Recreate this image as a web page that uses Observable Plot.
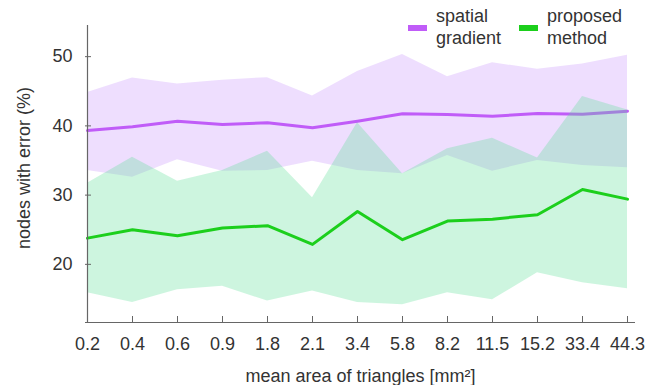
<!DOCTYPE html>
<html>
<head>
<meta charset="utf-8">
<script src="https://cdn.jsdelivr.net/npm/d3@7"></script>
<script src="https://cdn.jsdelivr.net/npm/@observablehq/plot@0.6"></script>
<style>
  html, body { margin: 0; padding: 0; background: #fff; }
  #wrap { position: relative; width: 661px; height: 385px; font-family: "Liberation Sans", Arial, sans-serif; color: #333; }
  .legend { position: absolute; font-size: 18px; line-height: 22px; color: #333; }
  .sw { position: absolute; height: 6px; width: 19px; }
</style>
</head>
<body>
<div id="wrap"></div>
<script>
// ---- data ----
const xLabels = ["0.2","0.4","0.6","0.9","1.8","2.1","3.4","5.8","8.2","11.5","15.2","33.4","44.3"];
const sgMean  = [39.33,39.86,40.67,40.19,40.44,39.72,40.67,41.74,41.63,41.39,41.78,41.68,42.11];
const sgUpper = [44.82,46.93,46.06,46.60,46.97,44.33,47.84,50.30,47.10,49.12,48.17,48.94,50.20];
const sgLower = [33.56,32.59,35.10,33.46,33.56,34.90,33.56,33.08,35.72,33.46,35.00,34.28,33.95];
const pmMean  = [23.79,25.00,24.14,25.24,25.58,22.88,27.64,23.56,26.25,26.53,27.17,30.82,29.42];
const pmUpper = [31.73,35.48,32.00,33.56,36.34,29.62,40.44,33.08,36.69,38.22,35.36,44.23,42.31];
const pmLower = [15.89,14.48,16.32,16.83,14.71,16.15,14.49,14.16,15.89,14.88,18.80,17.33,16.47];
const yTicks = [20, 30, 40, 50];
const yDomain = [11.6, 54.5];
const seriesNames = ["spatial\ngradient", "proposed\nmethod"];
const xTitle = "mean area of triangles [mm²]";
const yTitle = "nodes with error (%)";

const purple = "#c05cf8";
const purpleBand = "rgb(170,90,250)";
const green = "#1ccf1c";
const greenBand = "rgb(88,222,148)";
const axisColor = "#666";

const data = xLabels.map((x, i) => ({
  x, sgMean: sgMean[i], sgUpper: sgUpper[i], sgLower: sgLower[i],
  pmMean: pmMean[i], pmUpper: pmUpper[i], pmLower: pmLower[i]
}));

const chart = Plot.plot({
  width: 661,
  height: 385,
  marginLeft: 85,
  marginRight: 26,
  marginTop: 25,
  marginBottom: 63,
  style: { fontFamily: '"Liberation Sans", Arial, sans-serif', fontSize: "18px", color: "#333", background: "white" },
  x: { type: "point", domain: xLabels, padding: 0, insetRight: 7 },
  y: { domain: yDomain },
  marks: [
    Plot.areaY(data, { x: "x", y1: "sgLower", y2: "sgUpper", fill: purpleBand, fillOpacity: 0.2 }),
    Plot.lineY(data, { x: "x", y: "sgMean", stroke: purple, strokeWidth: 3 }),
    Plot.areaY(data, { x: "x", y1: "pmLower", y2: "pmUpper", fill: greenBand, fillOpacity: 0.3 }),
    Plot.lineY(data, { x: "x", y: "pmMean", stroke: green, strokeWidth: 3 }),
    Plot.ruleX([xLabels[0]], { stroke: axisColor, strokeWidth: 1.2 }),
    Plot.ruleY([yDomain[0]], { stroke: axisColor, strokeWidth: 1.2 }),
    // tick labels
    Plot.axisX({ tickSize: 0, tickPadding: 15, label: null, fill: "#333" }),
    Plot.axisY({ ticks: yTicks, tickSize: 0, tickPadding: 13, label: null, fill: "#333" }),
    // inward tick marks
    Plot.axisX({ tickSize: 6, dy: -6, tickFormat: () => "", label: null, stroke: axisColor }),
    Plot.axisY({ ticks: yTicks, tickSize: 6, dx: 6, tickFormat: () => "", label: null, stroke: axisColor }),
    // axis titles
    Plot.text([xTitle], { frameAnchor: "bottom", dy: 59, lineAnchor: "bottom", textAnchor: "middle", fill: "#333", fontSize: 18 }),
    Plot.text([yTitle], { frameAnchor: "left", dx: -61, dy: -6, rotate: -90, textAnchor: "middle", lineAnchor: "middle", fill: "#333", fontSize: 18 })
  ]
});

const wrap = document.getElementById("wrap");
wrap.appendChild(chart);

// legend overlay
const legendItems = [
  { name: seriesNames[0], color: purple, sw: 408, tx: 436 },
  { name: seriesNames[1], color: green, sw: 519, tx: 547 }
];
legendItems.forEach(it => {
  const s = document.createElement("div");
  s.className = "sw";
  s.style.left = it.sw + "px";
  s.style.top = "25px";
  s.style.background = it.color;
  wrap.appendChild(s);
  const t = document.createElement("div");
  t.className = "legend";
  t.style.left = it.tx + "px";
  t.style.top = "5px";
  t.innerHTML = it.name.split("\n").join("<br>");
  wrap.appendChild(t);
});
chart.style.position = "absolute";
chart.style.left = "0";
chart.style.top = "0";
</script>
</body>
</html>
